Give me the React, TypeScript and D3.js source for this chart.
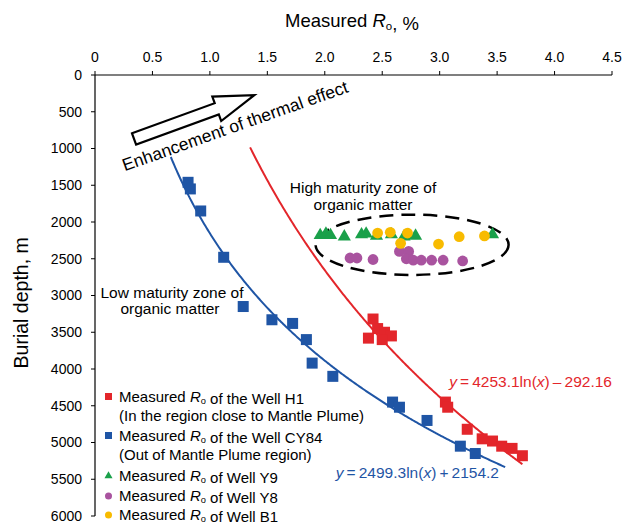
import React from 'react';
import * as d3 from 'd3';

// Well H1 (near mantle plume): [Ro %, depth m]
const h1Ro = [2.42, 2.46, 2.52, 2.58, 2.38, 2.50, 3.05, 3.07, 3.24, 3.37, 3.46, 3.54, 3.63, 3.72];
const h1Depth = [3320, 3450, 3500, 3550, 3580, 3600, 4450, 4520, 4820, 4950, 4980, 5050, 5080, 5180];

// Well CY84 (out of plume region)
const cyRo = [0.81, 0.83, 0.92, 1.12, 1.29, 1.54, 1.72, 1.84, 1.89, 2.07, 2.59, 2.65, 2.89, 3.18, 3.31];
const cyDepth = [1460, 1550, 1850, 2480, 3150, 3330, 3380, 3600, 3920, 4100, 4450, 4520, 4700, 5050, 5150];

// Well Y9
const y9Ro = [1.96, 2.01, 2.05, 2.17, 2.32, 2.36, 2.45, 2.58, 2.69, 2.73, 2.79, 3.46];
const y9Depth = [2180, 2160, 2180, 2200, 2170, 2160, 2190, 2170, 2200, 2180, 2190, 2170];

// Well Y8
const y8Ro = [2.22, 2.28, 2.42, 2.65, 2.73, 2.71, 2.77, 2.84, 2.93, 3.03, 3.20];
const y8Depth = [2490, 2490, 2510, 2400, 2400, 2500, 2520, 2520, 2520, 2520, 2530];

// Well B1
const b1Ro = [2.46, 2.57, 2.66, 2.72, 2.99, 3.17, 3.39];
const b1Depth = [2150, 2140, 2290, 2150, 2300, 2200, 2190];

const roTicks = [0, 0.5, 1.0, 1.5, 2.0, 2.5, 3.0, 3.5, 4.0, 4.5];
const depthTicks = [0, 500, 1000, 1500, 2000, 2500, 3000, 3500, 4000, 4500, 5000, 5500, 6000];

// trendlines shown on the chart: depth = a*ln(Ro) + b
const h1Fit = { a: 4253.1, b: -292.16, from: 1.35, to: 3.72 };
const cyFit = { a: 2499.3, b: 2154.2, from: 0.66, to: 3.57 };

const RED = '#e3262b';
const BLUE = '#1f55a5';
const GREEN = '#1aa04a';
const PURPLE = '#a9539f';
const YELLOW = '#f8bb00';
const FONT = 'Liberation Sans, Arial, sans-serif';

const W = 630;
const H = 524;
const margin = { top: 75, right: 18, bottom: 8, left: 95 };

const x = d3.scaleLinear().domain([0, 4.5]).range([margin.left, W - margin.right]);
const y = d3.scaleLinear().domain([0, 6000]).range([margin.top, H - margin.bottom]);

const zip = (a: number[], b: number[]) => a.map((v, i) => [v, b[i]]);

const fitPath = (f: { a: number; b: number; from: number; to: number }) => {
  const pts = d3.range(f.from, f.to + 0.001, 0.01).map((r) => [r, f.a * Math.log(r) + f.b]);
  return d3.line().x((d) => x(d[0])).y((d) => y(d[1]))(pts as [number, number][]);
};

const tri = d3.symbol().type(d3.symbolTriangle);

const Ro = ({ size = 15, drop = 2 }: { size?: number; drop?: number }) => (
  <>
    <tspan fontStyle="italic">R</tspan>
    <tspan fontSize={size * 0.62} dy={drop}>o</tspan>
    <tspan dy={-drop}></tspan>
  </>
);

const legendRows = [
  { color: RED, shape: 'square', lines: ['of the Well H1', '(In the region close to Mantle Plume)'] },
  { color: BLUE, shape: 'square', lines: ['of the Well CY84', '(Out of Mantle Plume region)'] },
  { color: GREEN, shape: 'triangle', lines: ['of Well Y9'] },
  { color: PURPLE, shape: 'circle', lines: ['of Well Y8'] },
  { color: YELLOW, shape: 'circle', lines: ['of Well B1'] },
];
const legendY = [397, 436, 476, 496, 515];

const T = '\u2009';

export default function App() {
  const arrowTail = [x(0.34), y(870)];
  const arrowPts = '0,-6 88,-6 88,-13 128,0 88,13 88,6 0,6';

  return (
    <svg width={W} height={H} style={{ position: 'absolute', left: 0, top: 0, fontFamily: FONT }}>
      <rect width={W} height={H} fill="#fff" />

      {/* top axis */}
      <text x={352} y={27} fontSize={18.5} textAnchor="middle">
        Measured <Ro size={18.5} drop={3} />, %
      </text>
      <line x1={x(0)} x2={x(4.5)} y1={y(0)} y2={y(0)} stroke="#000" strokeWidth={1.2} />
      {roTicks.map((t) => (
        <g key={t}>
          <line x1={x(t)} x2={x(t)} y1={y(0)} y2={y(0) - 4} stroke="#000" />
          <text x={x(t)} y={y(0) - 13} fontSize={14} textAnchor="middle">
            {t === 0 ? '0' : t.toFixed(1)}
          </text>
        </g>
      ))}

      {/* left axis */}
      <line x1={x(0)} x2={x(0)} y1={y(0)} y2={y(6000)} stroke="#000" strokeWidth={1.2} />
      {depthTicks.map((t) => (
        <g key={t}>
          <line x1={x(0)} x2={x(0) - 4} y1={y(t)} y2={y(t)} stroke="#000" />
          <text x={x(0) - 13} y={y(t)} dy="0.35em" fontSize={14} textAnchor="end">{t}</text>
        </g>
      ))}
      <text transform={`translate(28,${y(3100)}) rotate(-90)`} fontSize={19.5} textAnchor="middle">
        Burial depth, m
      </text>

      {/* trend curves */}
      <path d={fitPath(h1Fit) || ''} fill="none" stroke={RED} strokeWidth={2} />
      <path d={fitPath(cyFit) || ''} fill="none" stroke={BLUE} strokeWidth={2} />

      {/* high maturity ellipse */}
      <ellipse
        cx={x(2.76)} cy={y(2310)}
        rx={x(2.76) - x(1.92)} ry={y(2720) - y(2310)}
        fill="none" stroke="#000" strokeWidth={2.5} strokeDasharray="14 8"
      />

      {/* points */}
      {zip(cyRo, cyDepth).map(([r, d], i) => (
        <rect key={'c' + i} x={x(r) - 5.5} y={y(d) - 5.5} width={11} height={11} fill={BLUE} />
      ))}
      {zip(h1Ro, h1Depth).map(([r, d], i) => (
        <rect key={'h' + i} x={x(r) - 5.5} y={y(d) - 5.5} width={11} height={11} fill={RED} />
      ))}
      {zip(y8Ro, y8Depth).map(([r, d], i) => (
        <circle key={'p' + i} cx={x(r)} cy={y(d)} r={5.4} fill={PURPLE} />
      ))}
      {zip(y9Ro, y9Depth).map(([r, d], i) => (
        <path key={'g' + i} transform={`translate(${x(r)},${y(d)})`} d={tri.size(75)() || ''} fill={GREEN} />
      ))}
      {zip(b1Ro, b1Depth).map(([r, d], i) => (
        <circle key={'b' + i} cx={x(r)} cy={y(d)} r={5.4} fill={YELLOW} />
      ))}

      {/* annotations */}
      <polygon
        points={arrowPts}
        transform={`translate(${arrowTail[0]},${arrowTail[1]}) rotate(-20)`}
        fill="#fff" stroke="#000" strokeWidth={2.2} strokeLinejoin="miter"
      />
      <text transform={`translate(${x(0.26)},${y(1310)}) rotate(-19.5)`} fontSize={17.5}>
        Enhancement of thermal effect
      </text>
      <text x={363} y={193} fontSize={15.5} textAnchor="middle">
        <tspan x={363}>High maturity zone of</tspan>
        <tspan x={363} dy={17}>organic matter</tspan>
      </text>
      <text x={172} y={298} fontSize={15.5} textAnchor="middle">
        <tspan x={172}>Low maturity zone of</tspan>
        <tspan x={170} dy={16}>organic matter</tspan>
      </text>

      {/* equations */}
      <text x={612} y={387} fontSize={15.5} textAnchor="end" fill={RED}>
        <tspan fontStyle="italic">y</tspan>{T}={T}4253.1ln(<tspan fontStyle="italic">x</tspan>){T}–{T}292.16
      </text>
      <text x={499} y={478} fontSize={15.5} textAnchor="end" fill={BLUE}>
        <tspan fontStyle="italic">y</tspan>{T}={T}2499.3ln(<tspan fontStyle="italic">x</tspan>){T}+{T}2154.2
      </text>

      {/* legend */}
      {legendRows.map((row, i) => {
        const ly = legendY[i];
        return (
          <g key={i}>
            {row.shape === 'square' && <rect x={105} y={ly - 4} width={7} height={7} fill={row.color} />}
            {row.shape === 'circle' && <circle cx={108.5} cy={ly} r={3.5} fill={row.color} />}
            {row.shape === 'triangle' && (
              <path transform={`translate(108.5,${ly})`} d={tri.size(28)() || ''} fill={row.color} />
            )}
            <text x={119} y={ly + 5} fontSize={15}>
              Measured <Ro /> {row.lines[0]}
            </text>
            {row.lines[1] && (
              <text x={119} y={ly + 24} fontSize={15}>{row.lines[1]}</text>
            )}
          </g>
        );
      })}
    </svg>
  );
}
